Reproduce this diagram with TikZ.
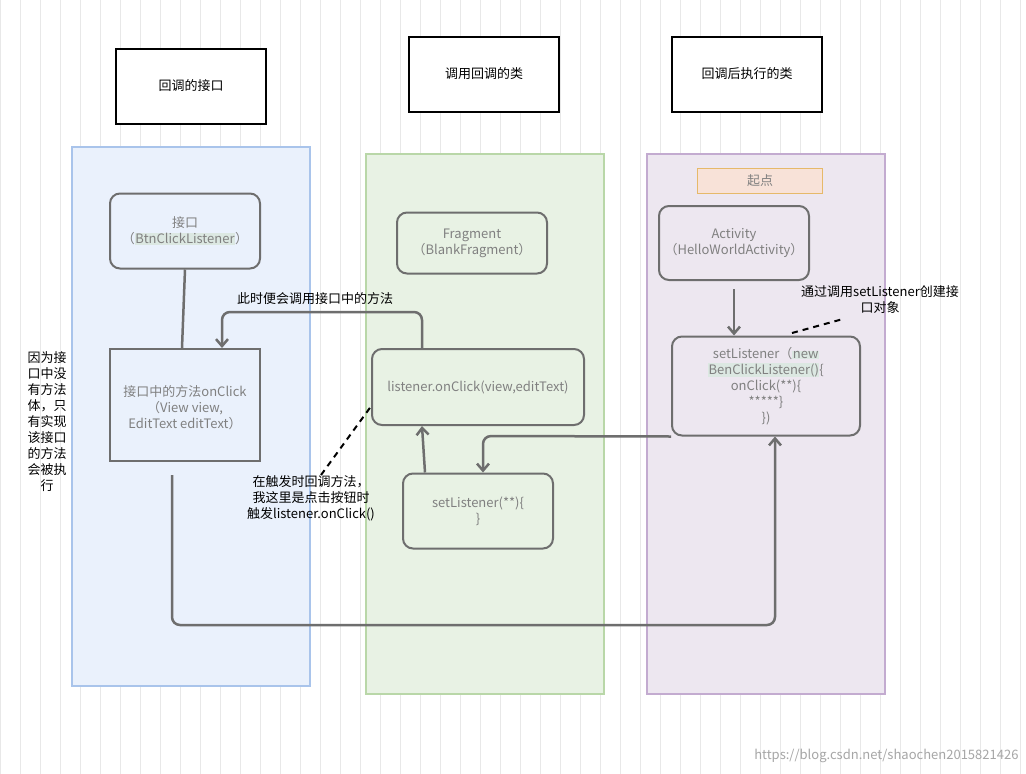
\documentclass[tikz,border=0pt]{standalone}
\usepackage{fontspec}
\setmainfont{Noto Sans CJK SC}
\usetikzlibrary{arrows.meta}
\definecolor{bd}{HTML}{6E6E6E}
\definecolor{tx}{HTML}{808080}
\definecolor{hl}{HTML}{DCE8E2}
\newcommand{\hlt}[1]{{\setlength{\fboxsep}{0.5pt}\colorbox{hl}{#1}}}
\begin{document}
\begin{tikzpicture}[x=1pt,y=-1pt,
  every node/.style={font=\fontsize{13}{16}\selectfont, align=center},
  title/.style={draw=black, line width=2pt, fill=white, minimum width=150pt, minimum height=75pt},
  lane/.style={line width=2pt},
  box/.style={draw=bd, line width=2pt, rounded corners=10pt, text=tx, inner sep=2pt},
  conn/.style={draw=bd, line width=2.5pt, rounded corners=8pt},
  arr/.style={conn, -{Straight Barb[length=7pt,width=12pt]}},
  dsh/.style={draw=black, line width=2pt, dash pattern=on 6pt off 5pt},
  note/.style={text=black}]
\useasboundingbox (0,0) rectangle (1026,774);
\fill[white] (0,0) rectangle (1026,774);
\draw[black!9, line width=0.6pt] (0,0) grid[step=20] (1026,774);
% lanes
\draw[lane, draw={rgb,255:red,169;green,196;blue,235}, fill={rgb,255:red,234;green,241;blue,252}] (72,147) rectangle (310,686);
\draw[lane, draw={rgb,255:red,185;green,215;blue,168}, fill={rgb,255:red,232;green,242;blue,228}] (366,154) rectangle (604,694);
\draw[lane, draw={rgb,255:red,195;green,171;blue,208}, fill={rgb,255:red,237;green,231;blue,240}] (647,154) rectangle (885,694);
% titles
\node[title] (t1) at (191,86) {回调的接口};
\node[title] (t2) at (484,74) {调用回调的类};
\node[title] (t3) at (747,74) {回调后执行的类};
\node[draw={rgb,255:red,230;green,185;blue,106}, fill={rgb,255:red,248;green,226;blue,216}, line width=1pt, minimum width=125pt, minimum height=25pt, text=tx] (start) at (760,181) {起点};
% boxes
\node[box, minimum width=150pt, minimum height=75pt] (ifc) at (185,231) {接口\\（\hlt{BtnClickListener}）};
\node[box, rounded corners=0pt, minimum width=150pt, minimum height=112pt, text depth=0pt] (meth) at (185,405) {\raisebox{12pt}{\begin{tabular}{@{}c@{}}接口中的方法onClick\\（View view,\\EditText editText）\end{tabular}}};
\node[box, minimum width=150pt, minimum height=61pt] (frag) at (472,243) {Fragment\\（BlankFragment）};
\node[box, minimum width=212pt, minimum height=76pt] (lis) at (478,387) {listener.onClick(view,editText)};
\node[box, minimum width=150pt, minimum height=75pt] (setl) at (478,511) {setListener(**)\{\\\}};
\node[box, minimum width=150pt, minimum height=74pt] (act) at (734,243) {Activity\\（HelloWorldActivity）};
\node[box, minimum width=188pt, minimum height=99pt] (sl) at (766,386) {setListener（\hlt{new}\\\hlt{BenClickListener()}\{\\onClick(**)\{\\*****\}\\\})};
% connectors
\draw[conn] (ifc.south) -- (meth.north -| 182,0);
\draw[arr] (lis.north -| 422,0) |- (222,312) -- (meth.north -| 222,0);
\node[note] (l1) at (315,299) {此时便会调用接口中的方法};
\draw[arr] (act.south -| 734,0) ++(0,8) -- (sl.north -| 734,0);
\draw[arr] (sl.south west) -- (483,436) -- (setl.north -| 483,0);
\draw[arr] (setl.north -| 425,0) -- (lis.south -| 422,0);
\coordinate (lb) at (172,475);
\draw[arr] (lb) -- (172,625) -- (775,625) -- (sl.south -| 775,0);
% dashed notes
\node[note, inner sep=0pt] (n2) at (311,498) {在触发时回调方法，\\我这里是点击按钮时\\触发listener.onClick()};
\draw[dsh] (n2.north) ++(10,0) -- (372,405);
\draw[dsh] (792,333) -- (843,319);
\node[note, inner sep=0pt] (n1) at (47,422) {因为接\\口中没\\有方法\\体，只\\有实现\\该接口\\的方法\\会被执\\行};
\node[note, inner sep=0pt] (n3) at (880,300) {通过调用setListener创建接\\口对象};
\node[text=black!35, anchor=east] (wm) at (1022,756) {https://blog.csdn.net/shaochen2015821426};
\end{tikzpicture}
\end{document}
